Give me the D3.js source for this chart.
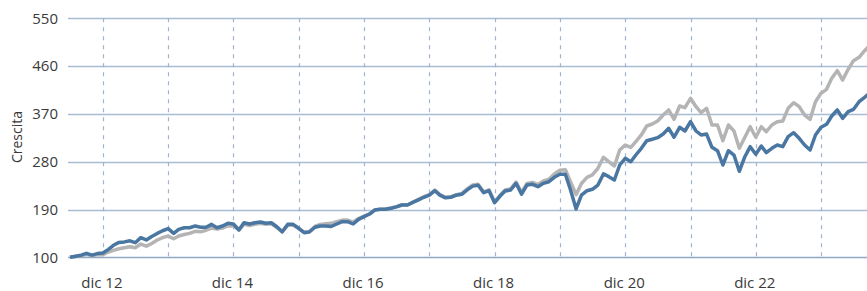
<!DOCTYPE html>
<html>
<head>
<meta charset="utf-8">
<script src="https://cdn.jsdelivr.net/npm/d3@7"></script>
<style>
  body { margin: 0; background: #fff; }
  svg { display: block; font-family: "Open Sans", sans-serif; }
</style>
</head>
<body>
<svg id="chart" width="867" height="291"></svg>
<script>
// monthly values, June 2012 .. September 2024 (month ends)
const startYear = 2012, startMonth = 5;
const fundValues = [
  100, 102, 104, 107.5, 104, 107, 108, 115, 122.6, 128, 129, 131, 127.5, 137, 132.6, 139, 145, 150, 154, 145, 152.7, 155.7, 155.7, 159,
  156.5, 156.5, 162, 155.7, 159, 164, 162.7, 151.4, 165, 162.7, 165, 166.5, 164, 165, 157.6, 148, 162, 162, 154.6, 146.3, 147.6, 156.5, 159, 159, 158,
  162.7, 167, 167, 162.7, 171.5, 176.5, 181.5, 189, 190.4, 190.4, 192.3, 195, 198.5, 198.5, 203.5, 208, 213, 217, 225.4, 217, 212, 213, 217, 218.6, 227,
  234, 235.6, 221.6, 225.4, 202.8, 215.4, 224.8, 226.7, 239.3, 219, 236, 237.4, 233, 239.3, 242.3, 250.6, 256.3, 256.3, 226.7, 191, 217, 225.4, 228, 236, 257,
  251.8, 245.5, 273.8, 286.4, 280, 292.6, 305.2, 319.5, 322.2, 325.2, 332, 342.9, 326, 344.8, 337.8, 355.3, 337.8, 330.3, 332, 307, 300.7, 273.8, 300.7, 292.6, 262,
  289.4, 308.3, 293.9, 309.6, 297, 305.2, 311.4, 308.3, 327.1, 334.6, 324, 311.4, 302, 330.3, 344.8, 350.4, 366, 377.4, 361.7, 374.2, 378.7, 393, 401.3, 410
];
const benchValues = [
  100, 101.5, 103, 105.5, 103, 105, 105, 110, 113, 116, 118, 120, 118, 125, 121, 126, 132.6, 137, 140, 135, 140, 143, 145, 149,
  148, 151, 155, 153, 155, 159, 159, 152, 162, 160, 162, 164, 162, 163, 156, 148, 160, 161, 154.6, 147, 148.5, 158, 162, 163, 164,
  167, 170, 170, 166, 173, 177.5, 182, 189, 190.5, 191, 193, 195.5, 199, 199, 204, 209, 214, 218, 226.5, 218, 213, 214, 218, 220, 229,
  236, 237.5, 223, 227, 204, 217, 227, 229, 241.5, 222, 239, 241, 237, 244, 247, 257, 264, 265, 242, 218, 239, 250.6, 255, 267.6, 288.3,
  280, 271.9, 302, 311.4, 307, 317.7, 330.3, 347.2, 351, 356.6, 367.9, 377.4, 359.8, 384.9, 381.7, 399.4, 383.6, 372.3, 380.5, 349.1, 349.1, 319.5, 349.1, 337.8, 305.2,
  326, 345.9, 326, 345.9, 336.5, 349.1, 355.3, 356.6, 380.5, 391.1, 383.6, 367.9, 359.8, 393, 408.8, 416.3, 437, 451.3, 433.8, 454, 470.2, 476.6, 489, 499.7
];
const yTicks = [100, 190, 280, 370, 460, 550];
const gridYears = [2012, 2013, 2014, 2015, 2016, 2017, 2018, 2019, 2020, 2021, 2022, 2023];
const labelYears = [2012, 2014, 2016, 2018, 2020, 2022];
const yTitle = "Crescita";

const itLocale = d3.timeFormatLocale({
  dateTime: "%A %e %B %Y, %X", date: "%d/%m/%Y", time: "%H:%M:%S",
  periods: ["AM", "PM"],
  days: ["Domenica", "Lunedì", "Martedì", "Mercoledì", "Giovedì", "Venerdì", "Sabato"],
  shortDays: ["Dom", "Lun", "Mar", "Mer", "Gio", "Ven", "Sab"],
  months: ["Gennaio", "Febbraio", "Marzo", "Aprile", "Maggio", "Giugno", "Luglio", "Agosto", "Settembre", "Ottobre", "Novembre", "Dicembre"],
  shortMonths: ["gen", "feb", "mar", "apr", "mag", "giu", "lug", "ago", "set", "ott", "nov", "dic"]
});
const fmt = itLocale.format("%b %y");

const monthEnd = i => new Date(startYear, startMonth + i + 1, 0);
const fund = fundValues.map((v, i) => ({ date: monthEnd(i), value: v }));
const bench = benchValues.map((v, i) => ({ date: monthEnd(i), value: v }));

const svg = d3.select("#chart");
const m = { left: 70, gridLeft: 68, right: 870, top: 18.3, bottom: 257.3 };

const x = d3.scaleTime()
  .domain([fund[0].date, fund[fund.length - 1].date])
  .range([m.left, m.right]);
const y = d3.scaleLinear().domain([100, 550]).range([m.bottom, m.top]);

// horizontal grid
svg.append("g")
  .selectAll("line")
  .data(yTicks)
  .join("line")
    .attr("x1", m.gridLeft)
    .attr("x2", 867)
    .attr("y1", d => Math.round(y(d)) + 0.5)
    .attr("y2", d => Math.round(y(d)) + 0.5)
    .attr("stroke", d => d === 100 ? "#90a8c4" : "#a9bcd2")
    .attr("stroke-width", d => d === 100 ? 1.6 : 1.3);

// december dashed lines
svg.append("g")
  .selectAll("line")
  .data(gridYears.map(yr => new Date(yr, 11, 31)))
  .join("line")
    .attr("x1", d => Math.round(x(d)) + 0.5)
    .attr("x2", d => Math.round(x(d)) + 0.5)
    .attr("y1", m.top)
    .attr("y2", m.bottom)
    .attr("stroke", "#9fb4cd")
    .attr("stroke-width", 1.2)
    .attr("stroke-dasharray", "4,5");

// y labels
svg.append("g")
  .attr("font-size", 15)
  .attr("fill", "#3a3a3a")
  .attr("text-anchor", "end")
  .selectAll("text")
  .data(yTicks)
  .join("text")
    .attr("x", 58)
    .attr("y", d => y(d))
    .attr("dy", "0.35em")
    .text(d => d);

// x labels
svg.append("g")
  .attr("font-size", 15)
  .attr("fill", "#3a3a3a")
  .attr("text-anchor", "middle")
  .selectAll("text")
  .data(labelYears.map(yr => new Date(yr, 11, 31)))
  .join("text")
    .attr("x", d => x(d) - 1)
    .attr("y", 287.5)
    .text(d => fmt(d));

svg.append("text")
  .attr("transform", "translate(22,137)rotate(-90)")
  .attr("text-anchor", "middle")
  .attr("font-size", 14)
  .attr("fill", "#3a3a3a")
  .text(yTitle);

const line = d3.line()
  .x(d => x(d.date))
  .y(d => y(d.value));

svg.append("path")
  .datum(bench)
  .attr("fill", "none")
  .attr("stroke", "#b4b4b4")
  .attr("stroke-width", 3.5)
  .attr("stroke-linejoin", "round")
  .attr("d", line);

svg.append("path")
  .datum(fund)
  .attr("fill", "none")
  .attr("stroke", "#4a76a2")
  .attr("stroke-width", 3.5)
  .attr("stroke-linejoin", "round")
  .attr("d", line);
</script>
</body>
</html>
